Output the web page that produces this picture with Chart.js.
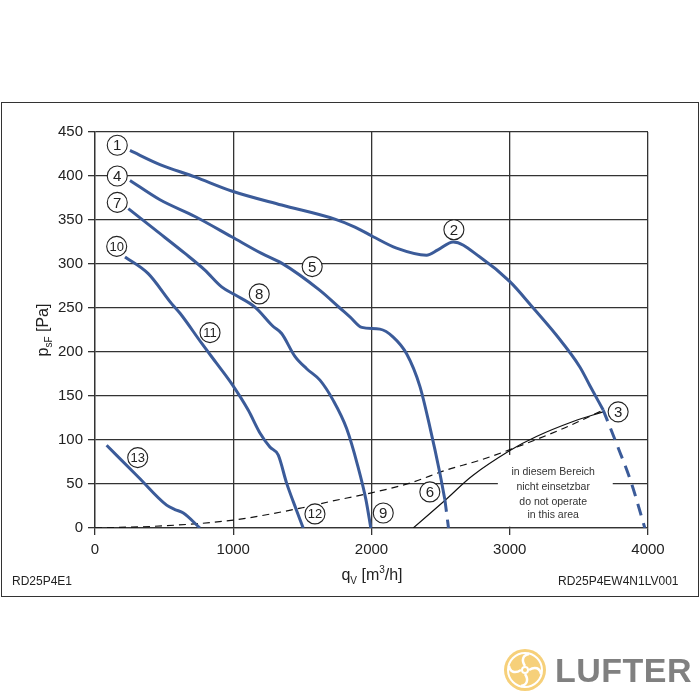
<!DOCTYPE html>
<html>
<head>
<meta charset="utf-8">
<script src="https://cdn.jsdelivr.net/npm/chart.js@4"></script>
<style>
  html, body { margin: 0; padding: 0; background: #fff; }
  body { width: 700px; height: 700px; position: relative; overflow: hidden; font-family: "Liberation Sans", Arial, sans-serif; }
  #frame { position: absolute; left: 1px; top: 102px; width: 696px; height: 493px; border: 1.5px solid #333; }
  #c { position: absolute; left: 0; top: 0; }
  .code { position: absolute; font-size: 12px; color: #222; }
  #logo { position: absolute; left: 503px; top: 648px; height: 44px; display: flex; align-items: center; }
  #logo span { font-weight: bold; font-size: 34px; color: #808080; margin-left: 8px; letter-spacing: 0.5px; }
</style>
</head>
<body>
<div id="frame"></div>
<canvas id="c" width="700" height="700"></canvas>
<div class="code" style="left:12px; top:574px;">RD25P4E1</div>
<div class="code" style="left:558px; top:574px;">RD25P4EW4N1LV001</div>
<div id="logo">
  <svg width="44" height="44" viewBox="0 0 44 44">
    <circle cx="22" cy="22" r="21" fill="#f6d07a"/>
    <circle cx="22" cy="22" r="17" fill="none" stroke="#fff" stroke-width="2"/>
    <path d="M22 18 C18 12 20 7 26 6" fill="none" stroke="#fff" stroke-width="2.5"/>
    <path d="M26 22 C32 18 37 20 38 26" fill="none" stroke="#fff" stroke-width="2.5"/>
    <path d="M22 26 C26 32 24 37 18 38" fill="none" stroke="#fff" stroke-width="2.5"/>
    <path d="M18 22 C12 26 7 24 6 18" fill="none" stroke="#fff" stroke-width="2.5"/>
    <circle cx="22" cy="22" r="3" fill="none" stroke="#fff" stroke-width="2"/>
  </svg>
  <span>LUFTER</span>
</div>
<script>
// fan curves, q in m3/h, p in Pa
const flow1 = [253, 470, 723, 988, 1350, 1735, 1880, 2012, 2181, 2398, 2480, 2591, 2784, 3001, 3170, 3338, 3507, 3579, 3676];
const press1 = [429, 413, 399, 383, 367, 351, 342, 331, 318, 310, 316, 325, 308, 280, 250, 219, 183, 162, 134];
const flow1d = [3676, 3772, 3880, 3977];
const press1d = [134, 96, 51, 0];

const flow4 = [253, 470, 723, 988, 1205, 1350, 1627, 1771, 1844, 1930, 2061, 2157, 2254, 2350, 2422, 2495, 2531];
const press4 = [395, 373, 354, 331, 312, 301, 270, 250, 240, 228, 226, 217, 198, 161, 115, 62, 32];
const flow4d = [2531, 2557];
const press4d = [32, 0];

const flow7 = [241, 434, 651, 795, 916, 1012, 1157, 1289, 1350, 1446, 1531, 1627, 1723, 1820, 1900, 1960, 1995];
const press7 = [363, 339, 312, 293, 274, 265, 251, 229, 221, 195, 181, 168, 145, 113, 71, 32, 0];

const flow10 = [217, 385, 554, 615, 771, 880, 988, 1108, 1193, 1265, 1325, 1386, 1458, 1506];
const press10 = [308, 289, 255, 244, 210, 187, 164, 134, 108, 92, 83, 51, 20, 0];

const flow13 = [84, 313, 518, 578, 639, 759];
const press13 = [94, 58, 26, 21, 17, 0];

// system curve (dashed) and operating limit (solid black)
const flowSys = [0, 500, 1000, 1500, 1699, 2000, 2278, 2543, 2784, 3001, 3400, 3676];
const pressSys = [0, 2.5, 9, 23, 30, 40, 51, 66, 77, 89, 114, 134];
const flowLim = [2302, 2543, 2735, 3001, 3193, 3458, 3676];
const pressLim = [0, 33, 60, 88, 104, 121, 132];

// circled curve numbers
const markText = ['1', '2', '3', '4', '5', '6', '7', '8', '9', '10', '11', '12', '13'];
const markFlow = [161, 2596, 3784, 161, 1571, 2422, 161, 1188, 2085, 157, 832, 1591, 309];
const markPress = [435, 339, 132, 400, 297, 41, 370, 266, 17, 320, 222, 16, 80];

const xTicks = [0, 1000, 2000, 3000, 4000];
const yTicks = [0, 50, 100, 150, 200, 250, 300, 350, 400, 450];

const warnLines = ['in diesem Bereich', 'nicht einsetzbar', 'do not operate', 'in this area'];

const BLUE = '#3b5b99';
const pts = (q, p) => q.map((v, i) => ({ x: v, y: p[i] }));

function blueLine(q, p, dashed) {
  return {
    data: pts(q, p), borderColor: BLUE, borderWidth: 3, pointRadius: 0,
    cubicInterpolationMode: 'monotone', borderDash: dashed ? [12, 8] : [], fill: false
  };
}

const overlay = {
  id: 'overlay',
  beforeDatasetsDraw(chart) {
    const { ctx, scales: { x, y } } = chart;
    ctx.save();
    ctx.fillStyle = '#fff';
    const l = x.getPixelForValue(2914), r = x.getPixelForValue(3745);
    const t = y.getPixelForValue(83), b = y.getPixelForValue(1.5);
    ctx.fillRect(l, t, r - l, b - t);
    ctx.fillStyle = '#333';
    ctx.font = '10.5px "Liberation Sans", Arial, sans-serif';
    ctx.textAlign = 'center';
    ctx.textBaseline = 'middle';
    const cx = x.getPixelForValue(3314);
    const off = y.getPixelForValue(0) - 528;
    const ys = [471.7, 486.7, 501.7, 515.5];
    warnLines.forEach((s, i) => ctx.fillText(s, cx, off + ys[i]));
    ctx.restore();
  },
  afterDatasetsDraw(chart) {
    const { ctx, scales: { x, y } } = chart;
    ctx.save();
    markText.forEach((s, i) => {
      const px = x.getPixelForValue(markFlow[i]);
      const py = y.getPixelForValue(markPress[i]);
      ctx.beginPath();
      ctx.arc(px, py, 10, 0, Math.PI * 2);
      ctx.fillStyle = '#fff';
      ctx.fill();
      ctx.lineWidth = 1.1;
      ctx.strokeStyle = '#222';
      ctx.stroke();
      ctx.fillStyle = '#222';
      ctx.textAlign = 'center';
      ctx.textBaseline = 'middle';
      ctx.font = (s.length > 1 ? '13px' : '15px') + ' "Liberation Sans", Arial, sans-serif';
      ctx.fillText(s, px, py + 1);
    });
    ctx.restore();
  },
  afterDraw(chart) {
    const { ctx } = chart;
    ctx.save();
    ctx.fillStyle = '#222';
    ctx.textBaseline = 'alphabetic';
    const big = '16px "Liberation Sans", Arial, sans-serif';
    const small = '10px "Liberation Sans", Arial, sans-serif';
    // x title: q_V [m3/h]
    let parts = [['q', big, 0], ['V', small, 4], [' [m', big, 0], ['3', small, -7], ['/h]', big, 0]];
    let w = 0;
    parts.forEach(p => { ctx.font = p[1]; w += ctx.measureText(p[0]).width; });
    let cx = 372 - w / 2;
    parts.forEach(p => { ctx.font = p[1]; ctx.fillText(p[0], cx, 580 + p[2]); cx += ctx.measureText(p[0]).width; });
    // y title: p_sF [Pa]
    ctx.translate(48, 330);
    ctx.rotate(-Math.PI / 2);
    parts = [['p', big, 0], ['sF', small, 4], [' [Pa]', big, 0]];
    w = 0;
    parts.forEach(p => { ctx.font = p[1]; w += ctx.measureText(p[0]).width; });
    cx = -w / 2;
    parts.forEach(p => { ctx.font = p[1]; ctx.fillText(p[0], cx, p[2]); cx += ctx.measureText(p[0]).width; });
    ctx.restore();
  }
};

const grid = { color: '#333', lineWidth: 1.3, tickLength: 7, drawTicks: true };
const tickFont = { family: '"Liberation Sans", Arial, sans-serif', size: 15 };

new Chart(document.getElementById('c'), {
  type: 'scatter',
  data: {
    datasets: [
      blueLine(flow1, press1),
      blueLine(flow1d, press1d, true),
      blueLine(flow4, press4),
      blueLine(flow4d, press4d, true),
      blueLine(flow7, press7),
      blueLine(flow10, press10),
      blueLine(flow13, press13),
      { data: pts(flowLim, pressLim), borderColor: '#111', borderWidth: 1.2, pointRadius: 0, tension: 0.4 },
      { data: pts(flowSys, pressSys), borderColor: '#111', borderWidth: 1.2, pointRadius: 0, cubicInterpolationMode: 'monotone', borderDash: [7, 5] }
    ].map(d => ({ ...d, showLine: true }))
  },
  options: {
    responsive: false,
    animation: false,
    events: [],
    layout: { padding: { left: 0, top: 132, right: 52, bottom: 112 } },
    plugins: { legend: { display: false }, tooltip: { enabled: false } },
    scales: {
      x: {
        type: 'linear', min: 0, max: 4000,
        afterBuildTicks: s => { s.ticks = xTicks.map(v => ({ value: v })); },
        afterFit: s => { s.height = 60; },
        grid, border: { color: '#333', width: 1.3 },
        ticks: { color: '#222', padding: 6, font: tickFont, callback: v => String(v) }
      },
      y: {
        type: 'linear', min: 0, max: 450,
        afterBuildTicks: s => { s.ticks = yTicks.map(v => ({ value: v })); },
        afterFit: s => { s.width = 95; },
        grid, border: { color: '#333', width: 1.3 },
        ticks: { color: '#222', padding: 5, font: tickFont, callback: v => String(v) }
      }
    }
  },
  plugins: [overlay]
});
</script>
</body>
</html>
